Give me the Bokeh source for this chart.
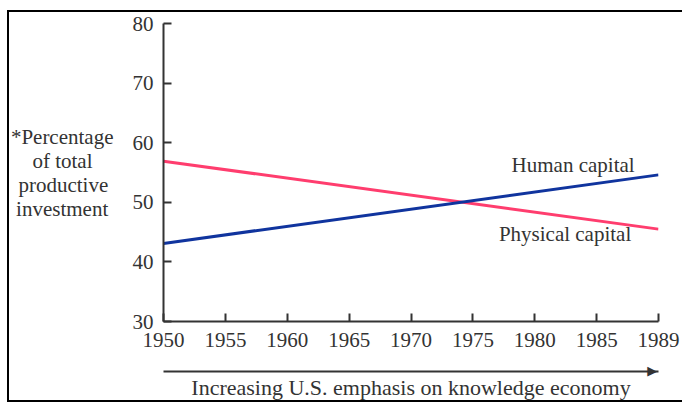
from bokeh.plotting import figure
from bokeh.models import Range1d, FixedTicker, Label, LinearAxis
from bokeh.embed import file_html
from bokeh.resources import INLINE

# ---- data ----
tick_labels = ["1950", "1955", "1960", "1965", "1970", "1975", "1980", "1985", "1989"]
years = ["1950", "1989"]
human_capital = [43.1, 54.6]
physical_capital = [56.9, 45.5]
y_ticks = [30, 40, 50, 60, 70, 80]

x_idx = [tick_labels.index(y) for y in years]

FONT = "Liberation Serif"
TXT = "#333333"
FS = "21px"
NB = "\u00A0"

p = figure(width=682, height=403, output_backend="svg", toolbar_location=None,
           x_range=Range1d(0, 8), y_range=Range1d(30, 80),
           min_border_left=163, min_border_right=24, min_border_top=23, min_border_bottom=82)
p.grid.visible = False
p.outline_line_color = None
p.background_fill_color = "white"
p.border_fill_color = None
p.styles = {
    "background": ("linear-gradient(#000,#000) 7px 10px / 700px 2px no-repeat, "
                   "linear-gradient(#000,#000) 7px 10px / 2px 392px no-repeat, "
                   "linear-gradient(#000,#000) 7px 400px / 700px 2px no-repeat, white"),
}

p.xaxis.ticker = FixedTicker(ticks=list(range(len(tick_labels))))
p.xaxis.major_label_overrides = {i: t for i, t in enumerate(tick_labels)}
p.yaxis.ticker = FixedTicker(ticks=y_ticks)

def style_axis(ax):
    ax.axis_line_width = 2
    ax.axis_line_color = "#333333"
    ax.major_tick_line_width = 2
    ax.major_tick_line_color = "#333333"
    ax.major_tick_in = 8
    ax.major_tick_out = 0
    ax.minor_tick_line_color = None
    ax.major_label_text_font = FONT
    ax.major_label_text_font_size = FS
    ax.major_label_text_color = TXT
    ax.axis_label_text_font = FONT
    ax.axis_label_text_font_size = FS
    ax.axis_label_text_color = TXT
    ax.axis_label_text_font_style = "normal"

style_axis(p.xaxis[0])
style_axis(p.yaxis[0])
p.xaxis.major_label_standoff = 11
p.yaxis.major_label_standoff = 10
p.xaxis.axis_label = " "
p.xaxis.axis_label_text_font_size = "10px"
p.xaxis.axis_label_standoff = 8

p.yaxis.axis_label = ("*Percentage\nof total" + NB * 4 + "\nproductive" + NB +
                      "\ninvestment" + NB)
p.yaxis.axis_label_orientation = "horizontal"
p.yaxis.axis_label_text_align = "center"
p.yaxis.axis_label_text_line_height = 1.0
p.yaxis.axis_label_standoff = 16

# shaft of the "increasing emphasis" arrow, with its head drawn as a tick label
arrow_axis = LinearAxis(ticker=FixedTicker(ticks=[7.9]),
                        major_label_overrides={7.9: "\u25B6"},
                        axis_label="Increasing U.S. emphasis on knowledge economy")
style_axis(arrow_axis)
arrow_axis.major_tick_line_color = None
arrow_axis.major_label_text_font = "DejaVu Sans"
arrow_axis.major_label_text_font_size = "13px"
arrow_axis.major_label_standoff = -9
arrow_axis.axis_label_text_font_size = "22px"
arrow_axis.axis_label_standoff = -6
p.add_layout(arrow_axis, "below")

p.line(x_idx, physical_capital, line_color="#ff3d6e", line_width=3)
p.line(x_idx, human_capital, line_color="#10349e", line_width=3)

def lab(x, y, text):
    p.add_layout(Label(x=x, y=y, text=text, text_font=FONT, text_font_size=FS,
                       text_color=TXT, text_align="center", text_baseline="middle"))

lab(6.62, 56.2, "Human capital")
lab(6.49, 44.6, "Physical capital")

open("out.html", "w").write(file_html(p, INLINE))
